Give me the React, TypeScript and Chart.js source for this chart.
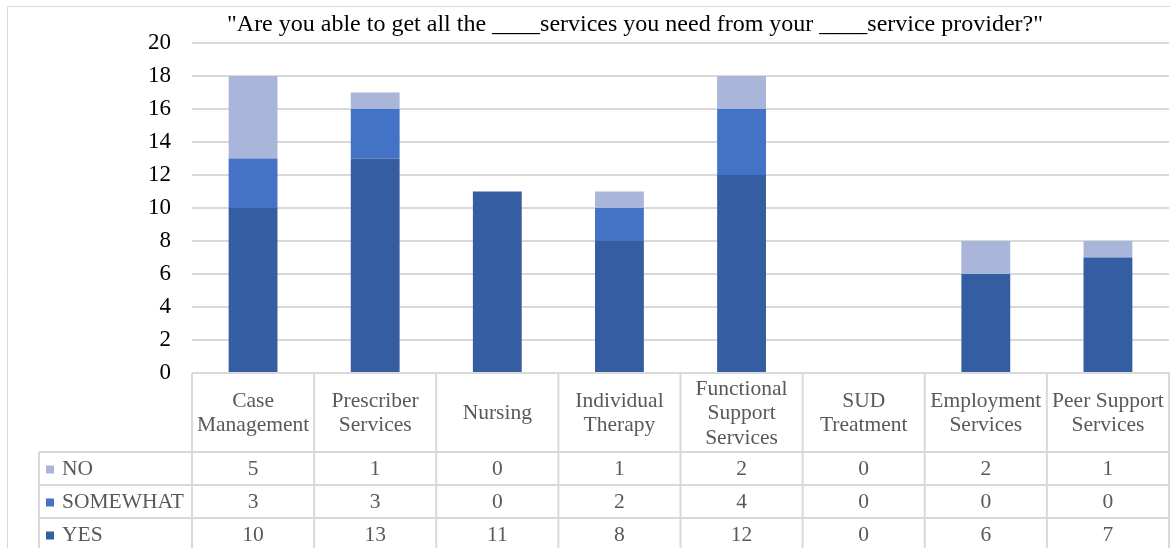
import React, { useEffect, useRef } from "react";
import { Chart, registerables } from "chart.js";

Chart.register(...registerables);

const TITLE = '"Are you able to get all the ____services you need from your ____service provider?"';
const categories: string[][] = [
  ["Case", "Management"],
  ["Prescriber", "Services"],
  ["Nursing"],
  ["Individual", "Therapy"],
  ["Functional", "Support", "Services"],
  ["SUD", "Treatment"],
  ["Employment", "Services"],
  ["Peer Support", "Services"],
];
const yesValues = [10, 13, 11, 8, 12, 0, 6, 7];
const somewhatValues = [3, 3, 0, 2, 4, 0, 0, 0];
const noValues = [5, 1, 0, 1, 2, 0, 2, 1];
const yTicks = [0, 2, 4, 6, 8, 10, 12, 14, 16, 18, 20];

const COLOR_YES = "#355DA1";
const COLOR_SOMEWHAT = "#4472C4";
const COLOR_NO = "#A9B6DA";
const LINE = "#d9d9d9";
const FONT = '"Liberation Serif", "Times New Roman", serif';

const tablePlugin = {
  id: "tablePlugin",
  beforeDraw(chart: any) {
    const ctx = chart.ctx;
    ctx.save();
    ctx.strokeStyle = LINE;
    ctx.lineWidth = 1;
    ctx.beginPath();
    ctx.moveTo(7.5, 560);
    ctx.lineTo(7.5, 6.5);
    ctx.lineTo(1180, 6.5);
    ctx.stroke();
    ctx.restore();
  },
  afterDraw(chart: any) {
    const ctx = chart.ctx;
    const x = chart.scales.x;
    const area = chart.chartArea;
    const n = categories.length;
    const half = (area.right - area.left) / n / 2;
    const top = area.bottom;
    const headerBottom = 452;
    const rowH = 33;
    const tableLeft = 39;
    const bottom = 560;

    ctx.save();
    // title
    ctx.fillStyle = "#000";
    ctx.font = `24px ${FONT}`;
    ctx.textAlign = "center";
    ctx.textBaseline = "middle";
    ctx.fillText(TITLE, 635, 25);

    // grid lines of the table
    ctx.strokeStyle = LINE;
    ctx.lineWidth = 2;
    ctx.beginPath();
    ctx.moveTo(area.left, top);
    ctx.lineTo(area.right + 2, top);
    for (let r = 0; r < 3; r++) {
      const yy = headerBottom + r * rowH;
      ctx.moveTo(tableLeft, yy);
      ctx.lineTo(area.right + 2, yy);
    }
    ctx.moveTo(tableLeft, headerBottom);
    ctx.lineTo(tableLeft, bottom);
    for (let i = 0; i <= n; i++) {
      const bx = i < n ? x.getPixelForValue(i) - half : x.getPixelForValue(n - 1) + half;
      ctx.moveTo(bx, top);
      ctx.lineTo(bx, bottom);
    }
    ctx.stroke();

    // header labels
    ctx.fillStyle = "#595959";
    ctx.font = `21.5px ${FONT}`;
    ctx.textAlign = "center";
    ctx.textBaseline = "middle";
    const headerMid = (top + headerBottom) / 2 + 1;
    const lh = 24.5;
    categories.forEach((lines, i) => {
      const cx = x.getPixelForValue(i);
      const start = headerMid - ((lines.length - 1) * lh) / 2;
      lines.forEach((ln, k) => ctx.fillText(ln, cx, start + k * lh));
    });

    // rows
    const rows = [
      { label: "NO", color: COLOR_NO, values: noValues },
      { label: "SOMEWHAT", color: COLOR_SOMEWHAT, values: somewhatValues },
      { label: "YES", color: COLOR_YES, values: yesValues },
    ];
    rows.forEach((row, r) => {
      const cy = headerBottom + r * rowH + rowH / 2 + 1;
      ctx.fillStyle = row.color;
      ctx.fillRect(46, cy - 4, 8, 8);
      ctx.fillStyle = "#595959";
      ctx.textAlign = "left";
      ctx.fillText(row.label, 62, cy);
      ctx.textAlign = "center";
      row.values.forEach((v, i) => ctx.fillText(String(v), x.getPixelForValue(i), cy));
    });
    ctx.restore();
  },
};

export default function App() {
  const ref = useRef<HTMLCanvasElement | null>(null);
  useEffect(() => {
    document.body.style.margin = "0";
    const canvas = ref.current;
    if (!canvas) return;
    const chart = new Chart(canvas, {
      type: "bar",
      data: {
        labels: categories.map((c) => c.join(" ")),
        datasets: [
          { label: "YES", data: yesValues, backgroundColor: COLOR_YES, barPercentage: 0.4, categoryPercentage: 1 },
          { label: "SOMEWHAT", data: somewhatValues, backgroundColor: COLOR_SOMEWHAT, barPercentage: 0.4, categoryPercentage: 1 },
          { label: "NO", data: noValues, backgroundColor: COLOR_NO, barPercentage: 0.4, categoryPercentage: 1 },
        ],
      },
      options: {
        responsive: false,
        animation: false,
        layout: { padding: { left: 0, right: 1, top: 43, bottom: 175 } },
        plugins: { legend: { display: false }, tooltip: { enabled: false }, title: { display: false } },
        scales: {
          x: { stacked: true, display: false },
          y: {
            stacked: true,
            min: 0,
            max: 20,
            afterBuildTicks: (s: any) => {
              s.ticks = yTicks.map((v) => ({ value: v }));
            },
            afterFit: (s: any) => {
              s.width = 192;
            },
            grid: { color: LINE, lineWidth: 2, drawTicks: false },
            border: { display: false },
            ticks: { padding: 21, color: "#000", font: { family: FONT, size: 23 } },
          },
        },
      },
      plugins: [tablePlugin],
    });
    return () => chart.destroy();
  }, []);
  return (
    <div style={{ width: 1170, height: 548 }}>
      <canvas ref={ref} width={1170} height={548} style={{ display: "block" }} />
    </div>
  );
}
